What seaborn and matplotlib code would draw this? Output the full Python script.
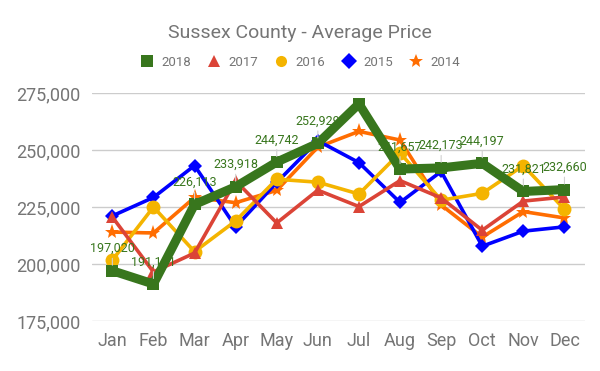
import pandas as pd
import matplotlib.pyplot as plt
from matplotlib.lines import Line2D
import seaborn as sns

# monthly average prices
months = ['Jan', 'Feb', 'Mar', 'Apr', 'May', 'Jun', 'Jul', 'Aug', 'Sep', 'Oct', 'Nov', 'Dec']
y2018 = [197020, 191191, 226113, 233918, 244742, 252929, 270300, 241657, 242173, 244197, 231821, 232660]
y2017 = [220600, 196500, 204800, 236500, 218000, 232400, 225200, 236600, 229000, 214800, 227600, 229400]
y2016 = [201700, 225000, 205400, 218900, 237200, 235900, 230700, 248800, 228000, 231000, 243200, 224000]
y2015 = [221100, 229200, 243200, 216300, 235800, 254100, 244500, 227000, 240600, 207800, 214400, 216300]
y2014 = [214000, 213600, 229200, 226900, 232300, 251300, 258200, 254400, 225900, 211800, 223000, 220200]
# the chart shows no label for July
labels2018 = ['197,020', '191,191', '226,113', '233,918', '244,742', '252,929', '',
              '241,657', '242,173', '244,197', '231,821', '232,660']

series = {'2018': y2018, '2017': y2017, '2016': y2016, '2015': y2015, '2014': y2014}
styles = {
    '2018': dict(color='#38761d', marker='s', lw=6.5, ms=9),
    '2017': dict(color='#db4437', marker='^', lw=2.6, ms=8),
    '2016': dict(color='#f4b400', marker='o', lw=2.6, ms=10),
    '2015': dict(color='#0000ff', marker='D', lw=2.6, ms=7),
    '2014': dict(color='#ff6d01', marker='*', lw=2.6, ms=11),
}

sns.set_style('white')
plt.rcParams['font.family'] = ['Roboto', 'DejaVu Sans']
grey = '#757575'

fig = plt.figure(figsize=(6, 3.71), dpi=100)
ax = fig.add_axes([0.153, 0.135, 0.822, 0.614])

x = list(range(len(months)))
# draw oldest first so 2018 ends on top
for year in ['2014', '2015', '2016', '2017', '2018']:
    st = styles[year]
    df = pd.DataFrame({'x': x, 'price': series[year]})
    sns.lineplot(data=df, x='x', y='price', ax=ax, color=st['color'], lw=st['lw'],
                 marker=st['marker'], markersize=st['ms'], markeredgewidth=0,
                 zorder=5 if year == '2018' else 3)

# data labels on the 2018 series
for xi, v, lab in zip(x, y2018, labels2018):
    if not lab:
        continue
    ax.annotate(lab, (xi, v), xytext=(0, 16), textcoords='offset points',
                ha='center', va='center', fontsize=9, color='#38761d', zorder=6,
                arrowprops=dict(arrowstyle='-', color='#d0d0d0', lw=0.8, shrinkA=0, shrinkB=4))

ax.set_xlim(-0.5, 11.5)
ax.set_ylim(175000, 275000)
ax.set_yticks([175000, 200000, 225000, 250000, 275000])
ax.set_yticklabels([f'{t:,}' for t in ax.get_yticks().astype(int)])
ax.set_xticks(x)
ax.set_xticklabels(months)
ax.tick_params(axis='both', length=0, labelsize=13, colors=grey, pad=8)
ax.grid(axis='y', color='#cccccc', lw=1)
ax.set_xlabel('')
ax.set_ylabel('')
for s in ax.spines.values():
    s.set_visible(False)

fig.text(0.5, 0.912, 'Sussex County - Average Price', ha='center', va='center',
         fontsize=14, color=grey)

handles = [Line2D([], [], ls='none', marker=styles[y]['marker'], color=styles[y]['color'],
                  markersize=8 if y != '2014' else 10, markeredgewidth=0) for y in series]
fig.legend(handles, list(series.keys()), loc='center', bbox_to_anchor=(0.5, 0.832),
           ncols=5, frameon=False, fontsize=9.5, labelcolor=grey, handlelength=1,
           handletextpad=0.6, columnspacing=1.25)

fig.savefig('out.png', dpi=100)
